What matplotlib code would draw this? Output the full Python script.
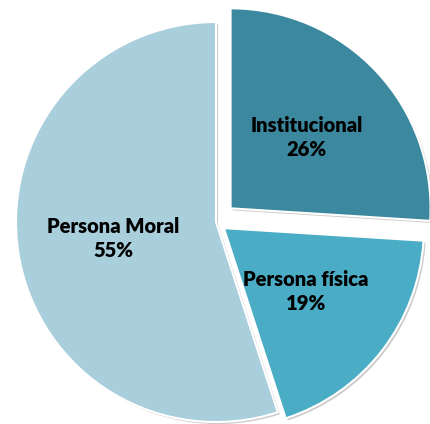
import matplotlib
matplotlib.use('Agg')
import matplotlib.pyplot as plt
import matplotlib.patheffects as pe

categorias = ['Institucional', 'Persona física', 'Persona Moral']
porcentajes = [26, 19, 55]
colores = ['#3B889F', '#4BACC6', '#A9CEDC']
separacion = [0.1, 0.05, 0.0]

fig = plt.figure(figsize=(4.31, 4.24), dpi=100)
ax = fig.add_axes([0, 0, 1, 1])

etiquetas = iter(categorias)
def formato(pct):
    return '%s\n%d%%' % (next(etiquetas), round(pct))

wedges, textos, autotextos = ax.pie(
    porcentajes, explode=separacion, colors=colores, startangle=90,
    counterclock=False, autopct=formato, pctdistance=0.52,
    wedgeprops=dict(edgecolor='white', linewidth=1.5),
    textprops=dict(fontsize=14.5, fontweight='heavy', color='black',
                   family='Lato', ha='center', linespacing=1.3))

for w in wedges:
    w.set_path_effects([pe.SimplePatchShadow(offset=(1.5, -1.5), shadow_rgbFace='#999999', alpha=0.5),
                        pe.Normal()])

ax.set_xlim(-1.08, 1.075)
ax.set_ylim(-1.01, 1.11)
ax.set_aspect('equal')
ax.axis('off')

plt.savefig('out.png', dpi=100)
